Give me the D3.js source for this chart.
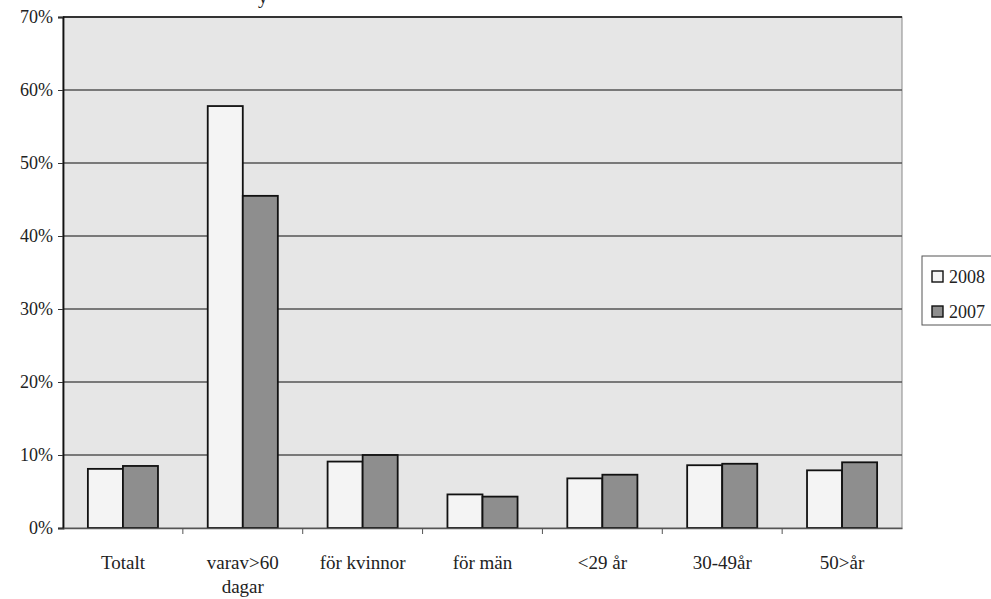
<!DOCTYPE html>
<html>
<head>
<meta charset="utf-8">
<script src="https://cdn.jsdelivr.net/npm/d3@7"></script>
<style>
  body { margin: 0; background: #fff; }
  svg { display: block; }
  text { font-family: "Liberation Serif", "DejaVu Serif", serif; fill: #222; }
</style>
</head>
<body>
<svg width="991" height="599"></svg>
<script>
// data
var categories = ["Totalt", "varav>60|dagar", "för kvinnor", "för män", "<29 år", "30-49år", "50>år"];
var series = ["2008", "2007"];
var values2008 = [8.1, 57.8, 9.1, 4.6, 6.8, 8.6, 7.9];
var values2007 = [8.5, 45.5, 10.0, 4.3, 7.3, 8.8, 9.0];
var yTicks = [0, 10, 20, 30, 40, 50, 60, 70];

var svg = d3.select("svg");
var m = {left: 63, right: 902, top: 17, bottom: 528};
var fills = {"2008": "#f4f4f4", "2007": "#8e8e8e"};
var serif = "'Liberation Serif', 'DejaVu Serif', serif";

var x = d3.scaleBand().domain(categories).range([m.left, m.right]);
var xs = d3.scaleBand().domain(series).range([0, x.bandwidth()]).paddingOuter(0.71).paddingInner(0);
var y = d3.scaleLinear().domain([0, 70]).range([m.bottom, m.top]);

// plot background
svg.append("rect")
  .attr("x", m.left).attr("y", m.top)
  .attr("width", m.right - m.left).attr("height", m.bottom - m.top)
  .attr("fill", "#e6e6e6")
  .attr("stroke", "#888").attr("stroke-width", 1);

// gridlines
svg.append("g").selectAll("line")
  .data(yTicks.slice(1))
  .enter().append("line")
  .attr("x1", m.left).attr("x2", m.right)
  .attr("y1", function(d) { return y(d); })
  .attr("y2", function(d) { return y(d); })
  .attr("stroke", function(d) { return d === 70 ? "#333" : "#555"; })
  .attr("stroke-width", function(d) { return d === 70 ? 2 : 1.4; });

// bars
var rows = categories.map(function(c, i) {
  return {cat: c, vals: [{s: "2008", v: values2008[i]}, {s: "2007", v: values2007[i]}]};
});

var groups = svg.append("g").selectAll("g")
  .data(rows)
  .enter().append("g")
  .attr("transform", function(d) { return "translate(" + x(d.cat) + ",0)"; });

groups.selectAll("rect")
  .data(function(d) { return d.vals; })
  .enter().append("rect")
  .attr("x", function(d) { return xs(d.s); })
  .attr("width", xs.bandwidth())
  .attr("y", function(d) { return y(d.v); })
  .attr("height", function(d) { return y(0) - y(d.v); })
  .attr("fill", function(d) { return fills[d.s]; })
  .attr("stroke", "#111")
  .attr("stroke-width", 1.8);

// y axis
var yAxis = svg.append("g")
  .attr("transform", "translate(" + m.left + ",0)")
  .call(d3.axisLeft(y).tickValues(yTicks).tickSize(5).tickFormat(function(d) { return d + "%"; }));
yAxis.select(".domain").attr("stroke", "#111").attr("stroke-width", 1.8);
yAxis.selectAll(".tick line").attr("stroke", "#333");
yAxis.selectAll("text").attr("dx", -2).attr("fill", "#222")
  .style("font-family", serif).style("font-size", "18px");

// x axis
var xAxis = svg.append("g")
  .attr("transform", "translate(0," + m.bottom + ")")
  .call(d3.axisBottom(x).tickSize(0).tickFormat(""));
xAxis.select(".domain").attr("stroke", "#555").attr("stroke-width", 1.6);

svg.append("g").selectAll("line")
  .data(categories.slice(1))
  .enter().append("line")
  .attr("x1", function(d) { return x(d); })
  .attr("x2", function(d) { return x(d); })
  .attr("y1", m.bottom).attr("y2", m.bottom + 6)
  .attr("stroke", "#555");

svg.append("g").selectAll("text")
  .data(categories)
  .enter().append("text")
  .attr("x", function(d) { return x(d) + x.bandwidth() / 2; })
  .attr("y", 569)
  .attr("text-anchor", "middle")
  .style("font-family", serif).style("font-size", "19px")
  .each(function(d) {
    var t = d3.select(this);
    d.split("|").forEach(function(part, i) {
      t.append("tspan").attr("x", x(d) + x.bandwidth() / 2).attr("dy", i ? 24 : 0).text(part);
    });
  });

// cut-off title fragment at the top edge
svg.append("text").attr("x", 258).attr("y", 3).style("font-family", serif).style("font-size", "20px").text("y");

// legend
var lg = svg.append("g").attr("transform", "translate(922,256)");
lg.append("rect").attr("width", 80).attr("height", 69)
  .attr("fill", "#fff").attr("stroke", "#555");
var li = lg.selectAll("g.item")
  .data(series)
  .enter().append("g")
  .attr("class", "item")
  .attr("transform", function(d, i) { return "translate(10," + (27 + i * 35) + ")"; });
li.append("rect").attr("y", -12).attr("width", 11).attr("height", 11)
  .attr("fill", function(d) { return fills[d]; })
  .attr("stroke", "#111").attr("stroke-width", 1.4);
li.append("text").attr("x", 17).attr("y", 0)
  .style("font-family", serif).style("font-size", "18px")
  .text(function(d) { return d; });
</script>
</body>
</html>
